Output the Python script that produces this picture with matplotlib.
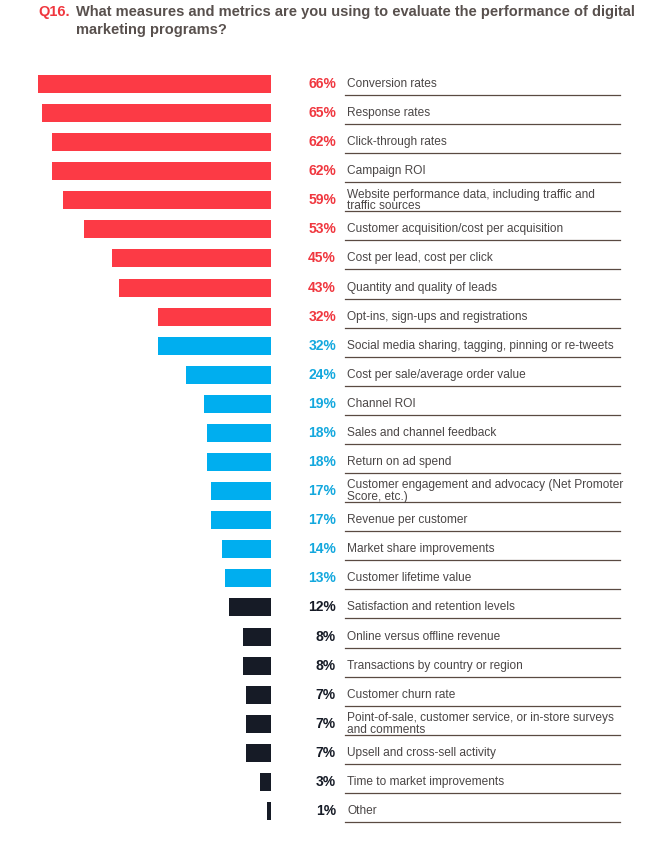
import matplotlib.pyplot as plt

plt.rcParams['font.family'] = ['Liberation Sans', 'DejaVu Sans']

labels = ["Conversion rates", "Response rates", "Click-through rates", "Campaign ROI",
          "Website performance data, including traffic and\ntraffic sources",
          "Customer acquisition/cost per acquisition", "Cost per lead, cost per click",
          "Quantity and quality of leads", "Opt-ins, sign-ups and registrations",
          "Social media sharing, tagging, pinning or re-tweets",
          "Cost per sale/average order value", "Channel ROI", "Sales and channel feedback",
          "Return on ad spend",
          "Customer engagement and advocacy (Net Promoter\nScore, etc.)",
          "Revenue per customer", "Market share improvements", "Customer lifetime value",
          "Satisfaction and retention levels", "Online versus offline revenue",
          "Transactions by country or region", "Customer churn rate",
          "Point-of-sale, customer service, or in-store surveys\nand comments",
          "Upsell and cross-sell activity", "Time to market improvements", "Other"]
values = [66, 65, 62, 62, 59, 53, 45, 43, 32, 32, 24, 19, 18, 18, 17, 17, 14, 13,
          12, 8, 8, 7, 7, 7, 3, 1]
groups = ["r"] * 9 + ["b"] * 9 + ["k"] * 8

bar_col = {"r": "#FC3A45", "b": "#00AEEF", "k": "#161B26"}
txt_col = {"r": "#F0373F", "b": "#13A8DE", "k": "#161B26"}

W, H = 660, 842
px = 3.53  # pixels per percent
x0 = 271   # right edge of bars in pixels

fig = plt.figure(figsize=(6.6, 8.42), dpi=100)
ax = fig.add_axes([0, 0, 1, 1])
ax.set_xlim(-x0 / px, (W - x0) / px)
ax.set_ylim(H, 0)
ax.axis("off")

def X(p):
    return (p - x0) / px

ys = [84 + i * 29.08 for i in range(len(values))]
ax.barh(ys, [-v for v in values], height=18, color=[bar_col[g] for g in groups], left=0)
for y, v, lab, g in zip(ys, values, labels, groups):
    ax.text(X(336), y, f"{v}%", ha="right", va="center", fontsize=10,
            fontweight="bold", color=txt_col[g])
    ax.text(X(347), y, lab, ha="left", va="center", fontsize=8.6, color="#4a4646",
            linespacing=0.95)
    ax.plot([X(345), X(620)], [y + 11, y + 11], color="#5a4a42", lw=0.9)

ax.text(X(38), 12, "Q16.", ha="left", va="center", fontsize=10.5, fontweight="bold",
        color="#F0373F")
ax.text(X(76), 12, "What measures and metrics are you using to evaluate the performance of digital",
        ha="left", va="center", fontsize=10.5, fontweight="bold", color="#58504d")
ax.text(X(76), 30, "marketing programs?", ha="left", va="center", fontsize=10.5,
        fontweight="bold", color="#58504d")

fig.savefig("out.png", dpi=100)
